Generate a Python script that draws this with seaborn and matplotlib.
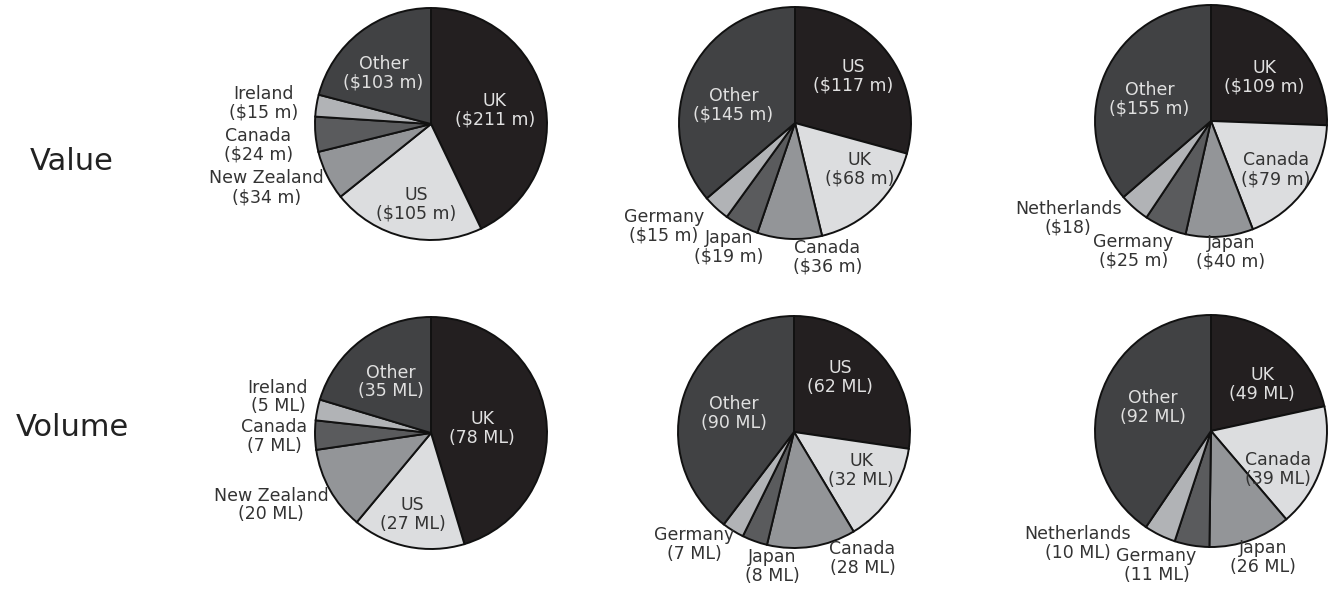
import matplotlib
matplotlib.use("Agg")
import matplotlib.pyplot as plt
import seaborn as sns
import numpy as np

sns.set_theme(style="white")
plt.rcParams['font.family'] = ['DejaVu Sans']

# ---------------- data ----------------
row_titles = ["Value", "Volume"]

val1_labels = ["UK", "US", "New Zealand", "Canada", "Ireland", "Other"]
val1_values = [211, 105, 34, 24, 15, 103]
val1_text = ["$211 m", "$105 m", "$34 m", "$24 m", "$15 m", "$103 m"]

val2_labels = ["US", "UK", "Canada", "Japan", "Germany", "Other"]
val2_values = [117, 68, 36, 19, 15, 145]
val2_text = ["$117 m", "$68 m", "$36 m", "$19 m", "$15 m", "$145 m"]

val3_labels = ["UK", "Canada", "Japan", "Germany", "Netherlands", "Other"]
val3_values = [109, 79, 40, 25, 18, 155]
val3_text = ["$109 m", "$79 m", "$40 m", "$25 m", "$18", "$155 m"]

vol1_labels = ["UK", "US", "New Zealand", "Canada", "Ireland", "Other"]
vol1_values = [78, 27, 20, 7, 5, 35]
vol1_text = ["78 ML", "27 ML", "20 ML", "7 ML", "5 ML", "35 ML"]

vol2_labels = ["US", "UK", "Canada", "Japan", "Germany", "Other"]
vol2_values = [62, 32, 28, 8, 7, 90]
vol2_text = ["62 ML", "32 ML", "28 ML", "8 ML", "7 ML", "90 ML"]

vol3_labels = ["UK", "Canada", "Japan", "Germany", "Netherlands", "Other"]
vol3_values = [49, 39, 26, 11, 10, 92]
vol3_text = ["49 ML", "39 ML", "26 ML", "11 ML", "10 ML", "92 ML"]

# ---------------- styling / layout ----------------
slice_colors = ["#231f20", "#dcdddf", "#939598", "#5a5b5d", "#b1b3b6", "#414244"]
text_on = ["#e0e0e0", "#333333", "#333333", "#333333", "#333333", "#e0e0e0"]

# label anchor positions (in pie-radius units), one list per chart
pos = [
    [(0.55, 0.12), (-0.13, -0.69), (-1.42, -0.55), (-1.49, -0.18), (-1.44, 0.18), (-0.41, 0.44)],
    [(0.50, 0.40), (0.56, -0.40), (0.28, -1.16), (-0.57, -1.07), (-1.13, -0.89), (-0.53, 0.15)],
    [(0.46, 0.38), (0.56, -0.42), (0.17, -1.13), (-0.67, -1.12), (-1.23, -0.84), (-0.53, 0.19)],
    [(0.44, 0.04), (-0.16, -0.70), (-1.38, -0.62), (-1.35, -0.03), (-1.32, 0.31), (-0.35, 0.44)],
    [(0.40, 0.47), (0.58, -0.33), (0.59, -1.09), (-0.19, -1.16), (-0.86, -0.97), (-0.52, 0.16)],
    [(0.44, 0.40), (0.58, -0.33), (0.45, -1.09), (-0.47, -1.16), (-1.15, -0.97), (-0.50, 0.20)],
]
inside = [True, True, False, False, False, True]
centers = [(431, 124), (795, 123), (1211, 121), (431, 433), (794, 432), (1211, 431)]
radius_px = 116

W, H = 1337, 590
fig = plt.figure(figsize=(W / 100, H / 100), dpi=100)
fig.patch.set_facecolor("white")

charts = [
    (val1_labels, val1_values, val1_text),
    (val2_labels, val2_values, val2_text),
    (val3_labels, val3_values, val3_text),
    (vol1_labels, vol1_values, vol1_text),
    (vol2_labels, vol2_values, vol2_text),
    (vol3_labels, vol3_values, vol3_text),
]

for i, (labels, values, texts) in enumerate(charts):
    cx, cy = centers[i]
    ax = fig.add_axes([(cx - radius_px) / W, 1 - (cy + radius_px) / H,
                       2 * radius_px / W, 2 * radius_px / H])
    ax.pie(values, colors=slice_colors, startangle=90, counterclock=False,
           wedgeprops=dict(edgecolor="#111111", linewidth=1.4))
    ax.set_xlim(-1, 1)
    ax.set_ylim(-1, 1)
    ax.set_aspect("equal")
    ax.axis("off")
    for j, (lab, t) in enumerate(zip(labels, texts)):
        x, y = pos[i][j]
        col = text_on[j] if inside[j] else "#333333"
        ax.text(x, y, f"{lab}\n({t})", ha="center", va="center",
                fontsize=12.5, color=col, linespacing=1.05, clip_on=False)

fig.text(72 / W, 1 - 162 / H, row_titles[0], ha="center", va="center",
         fontsize=22, color="#222222")
fig.text(72 / W, 1 - 427 / H, row_titles[1], ha="center", va="center",
         fontsize=22, color="#222222")

fig.savefig("out.png", dpi=100, facecolor="white")
